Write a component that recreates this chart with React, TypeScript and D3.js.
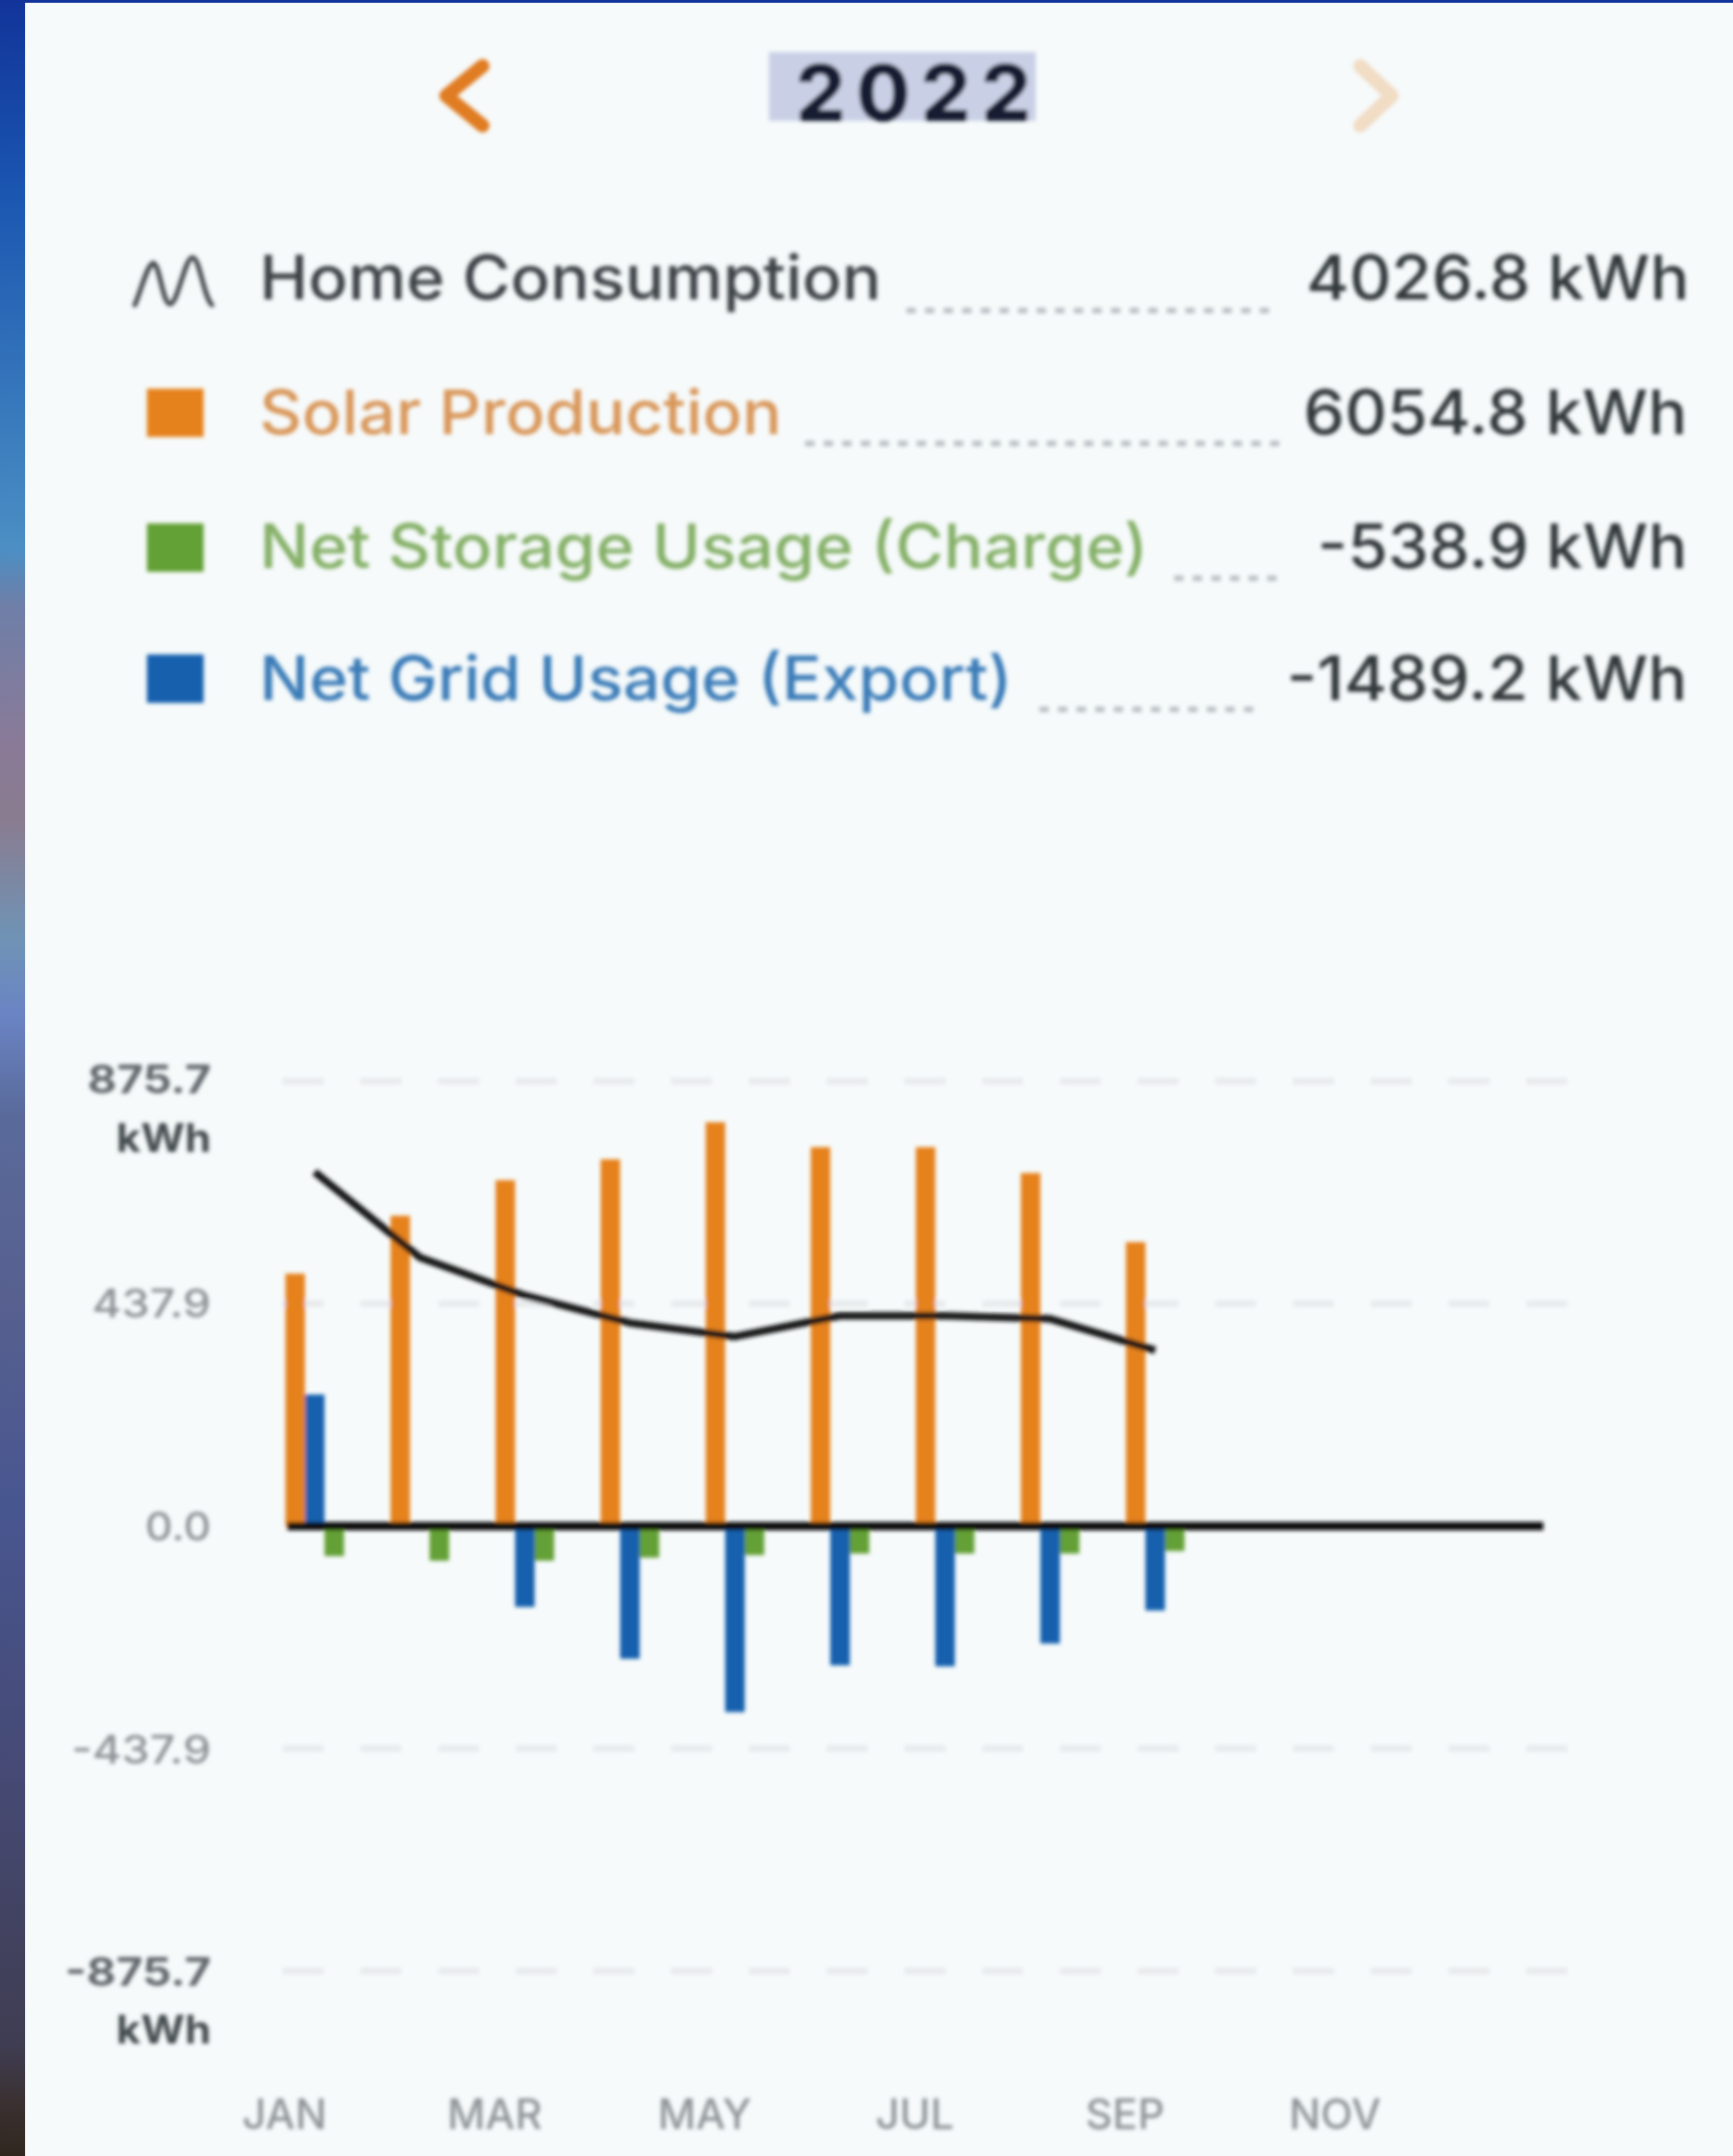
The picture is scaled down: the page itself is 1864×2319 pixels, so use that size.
import React from "react";
import * as d3 from "d3";

const months = ["JAN","FEB","MAR","APR","MAY","JUN","JUL","AUG","SEP","OCT","NOV","DEC"];
const monthTicks = ["JAN","MAR","MAY","JUL","SEP","NOV"];
const solar = [497, 611, 681, 722, 795, 746, 746, 695, 559];
const grid = [259, -5, -159, -261, -366, -274, -276, -231, -166];
const storage = [-59, -68, -68, -62, -57, -54, -54, -54, -49];
const home = [697, 529, 454, 400, 373, 414, 414, 408, 346];
const gridValues = [875.7, 437.9, -437.9, -875.7];

const legendLabels = ["Home Consumption", "Solar Production", "Net Storage Usage (Charge)", "Net Grid Usage (Export)"];
const legendValues = ["4026.8 kWh", "6054.8 kWh", "-538.9 kWh", "-1489.2 kWh"];
const yearLabel = "2022";

const FONT = "Inter, 'Noto Sans', sans-serif";
const ORANGE = "#e6821e";
const BLUE = "#1260ae";
const GREEN = "#64a036";
const BG = "#f6fafb";

const stripStops: [number, string][] = [
  [0, "#12349a"], [200, "#1a55b0"], [590, "#4b8fc4"], [650, "#6e7fa8"], [800, "#8a7a98"], [880, "#8a7c90"],
  [1010, "#6f93b5"], [1090, "#6a84c4"], [1200, "#596a9a"], [1400, "#57608f"], [1620, "#485690"],
  [1900, "#464a75"], [2200, "#3f3d52"], [2265, "#3a3030"], [2319, "#30281f"],
];

const x = d3.scaleBand<string>().domain(months).range([307, 307 + 12 * 113]);
const inner = d3.scaleBand<string>().domain(["solar", "grid", "storage"]).range([0, 63]);
const y = d3.scaleLinear().domain([-875.7, 875.7]).range([2120, 1163]);

const line = d3.line<number>()
  .x((_, i) => (x(months[i]) as number) + (inner("grid") as number) + inner.bandwidth() / 2)
  .y((d) => y(d));

const legendRows = [
  { base: 322, left: 279, w: 669, color: "#3d4347", right: 1817, vw: 412, lead: [975, 1373, 334], swatch: null },
  { base: 467, left: 279, w: 562, color: "#d9975a", right: 1815, vw: 413, lead: [866, 1385, 477], swatch: [418, ORANGE] },
  { base: 611, left: 279, w: 956, color: "#85b068", right: 1815, vw: 398, lead: [1263, 1377, 622], swatch: [563, GREEN] },
  { base: 753, left: 279, w: 810, color: "#3a7cb8", right: 1815, vw: 431, lead: [1118, 1355, 763], swatch: [704, BLUE] },
];

const axisLabels = [
  { t: "875.7", base: 1176, w: 133, bold: true },
  { t: "kWh", base: 1239, w: 102, bold: true, dark: true },
  { t: "437.9", base: 1417, w: 128, bold: false },
  { t: "0.0", base: 1657, w: 71, bold: false },
  { t: "-437.9", base: 1897, w: 150, bold: false },
  { t: "-875.7", base: 2135.5, w: 157, bold: true },
  { t: "kWh", base: 2198, w: 102, bold: true, dark: true },
];

function Bars({ values, name, color }: { values: number[]; name: string; color: string }) {
  return (
    <g fill={color}>
      {values.map((v, i) => (
        <rect
          key={i}
          x={(x(months[i]) as number) + (inner(name) as number)}
          y={Math.min(y(v), y(0))}
          width={inner.bandwidth()}
          height={Math.abs(y(v) - y(0))}
        />
      ))}
    </g>
  );
}

export default function App() {
  return (
    <svg width={1864} height={2319} viewBox="0 0 1864 2319"
      style={{ position: "absolute", left: 0, top: 0, display: "block" }} fontFamily={FONT}>
      <defs>
        <linearGradient id="strip" x1="0" y1="0" x2="0" y2="1">
          {stripStops.map(([p, c]) => <stop key={p} offset={p / 2319} stopColor={c} />)}
        </linearGradient>
        <filter id="soft" x="-2%" y="-2%" width="104%" height="104%">
          <feGaussianBlur stdDeviation="2" />
        </filter>
      </defs>
      <rect x={0} y={0} width={1864} height={2319} fill={BG} />
      <rect x={0} y={0} width={27} height={2319} fill="url(#strip)" />
      <rect x={0} y={0} width={1864} height={3} fill="#12349a" />

      <g filter="url(#soft)">
        {/* header */}
        <rect x={827} y={56} width={287} height={74} fill="#c9d0e6" />
        <text x={856} y={130} fontSize={84} fontWeight={800} fill="#161c33" textLength={253} lengthAdjust="spacing">{yearLabel}</text>
        <path d="M519,71 L480,103 L519,135" fill="none" stroke="#e07b20" strokeWidth={15} strokeLinecap="round" strokeLinejoin="round" />
        <path d="M1463,71 L1497,103 L1463,135" fill="none" stroke="#f1dcc4" strokeWidth={15} strokeLinecap="round" strokeLinejoin="round" />

        {/* legend */}
        <path d="M145,328 C152,312 158,285 165,283 C172,285 175,327 183,327 C191,327 199,277 207,277 C215,277 219,320 228,328"
          fill="none" stroke="#3d4347" strokeWidth={5} strokeLinecap="round" />
        {legendRows.map((r, i) => (
          <g key={i}>
            {r.swatch && <rect x={158} y={r.swatch[0] as number} width={61} height={52} fill={r.swatch[1] as string} />}
            <text x={r.left} y={r.base} fontSize={66} fontWeight={500} fill={r.color} textLength={r.w} lengthAdjust="spacingAndGlyphs">{legendLabels[i]}</text>
            <line x1={r.lead[0]} x2={r.lead[1]} y1={r.lead[2]} y2={r.lead[2]} stroke="#b9bfc4" strokeWidth={6} strokeDasharray="10 10" />
            <text x={r.right - r.vw} y={r.base} fontSize={66} fontWeight={500} fill="#33373a" textLength={r.vw} lengthAdjust="spacingAndGlyphs">{legendValues[i]}</text>
          </g>
        ))}

        {/* grid */}
        {gridValues.map((v) => (
          <line key={v} x1={304} x2={1690} y1={y(v)} y2={y(v)} stroke="#e8eaec" strokeWidth={7} strokeDasharray="44 39.6" />
        ))}

        {/* axis labels */}
        {axisLabels.map((a, i) => (
          <text key={i} x={227 - a.w} y={a.base} fontSize={42} fontWeight={a.bold ? 700 : 500}
            fill={a.dark ? "#454b50" : a.bold ? "#62686d" : "#8d9296"} textLength={a.w} lengthAdjust="spacingAndGlyphs">{a.t}</text>
        ))}
        {monthTicks.map((m) => (
          <text key={m} x={(x(m) as number) - 1} y={2290} fontSize={45} fontWeight={500} fill="#8f9498" textAnchor="middle">{m}</text>
        ))}

        {/* marks */}
        <Bars values={solar} name="solar" color={ORANGE} />
        <Bars values={grid} name="grid" color={BLUE} />
        <Bars values={storage} name="storage" color={GREEN} />
        <line x1={309} x2={1660} y1={y(0)} y2={y(0)} stroke="#0a0a0a" strokeWidth={9} />
        <path d={line(home) as string} fill="none" stroke="#141414" strokeWidth={8} strokeLinejoin="round" />
      </g>
    </svg>
  );
}
